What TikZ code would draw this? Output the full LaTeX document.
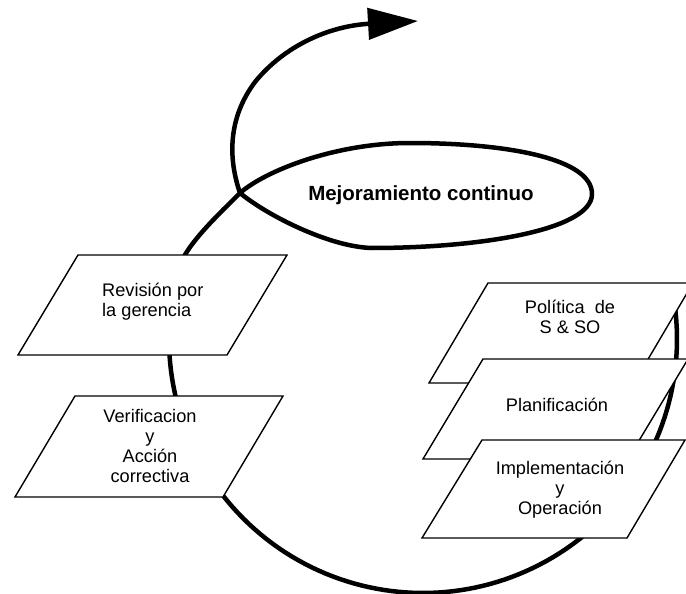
\documentclass[tikz,border=0pt]{standalone}
\usepackage{fontspec}
\setmainfont{Liberation Sans}
\usetikzlibrary{arrows.meta}
\begin{document}
\begin{tikzpicture}[x=1pt,y=-1pt,
  flow/.style={line width=4.5pt, line join=round, line cap=round},
  pbox/.style={draw=black, fill=white, line width=1.4pt, line join=miter},
  lbl/.style={font=\fontsize{18.2}{19.8}\selectfont, inner sep=0pt, anchor=base, align=center},
]
\useasboundingbox (0,0) rectangle (686,594);
\clip (0,0) rectangle (686,594);
\fill[white] (0,0) rectangle (686,594);

\coordinate (cross) at (240,193);
\coordinate (tip) at (418,21);

% main cycle, spiral and arrow
\draw[flow, -{Triangle[length=50pt,width=31pt]}]
  plot[domain=-8:197, samples=120] ({423+254*cos(\x)}, {339+254*sin(\x)})
  .. controls (189,241) and (224.6,208.8) .. (cross)
  .. controls (228,158) and (228,118) .. (255,82)
  .. controls (285,45) and (330,26) .. (tip);

% improvement loop
\draw[flow] (cross) .. controls (265,171) and (335,143) .. (410,143)
  .. controls (505,143) and (592,158) .. (592,194)
  .. controls (592,230) and (480,248) .. (372,248)
  .. controls (330,247) and (268,216) .. (cross);

% boxes
\path[pbox] (78,255) -- (287,255) -- (227,355) -- (18,355) -- cycle;
\path[pbox] (75,396) -- (283,396) -- (223,497) -- (15,497) -- cycle;
\path[pbox] (488,283) -- (693,283) -- (634,383) -- (429,383) -- cycle;
\path[pbox] (483,359) -- (688,359) -- (628,459) -- (423,459) -- cycle;
\path[pbox] (482,440) -- (685,440) -- (627,538) -- (422,538) -- cycle;

% labels (base anchor = baseline of the last line)
\node[lbl, anchor=base west, align=left] (rev) at (102,316) {Revisión por\\la gerencia};
\node[lbl] (ver) at (150,482) {Verificacion\\y\\Acción\\correctiva};
\node[lbl] (pol) at (570,333) {Política\ \ de\\S \& SO};
\node[lbl] (pla) at (557,411) {Planificación};
\node[lbl] (imp) at (560,514) {Implementación\\y\\Operación};
\node[lbl, font=\bfseries\fontsize{20.5}{24}\selectfont] (mej) at (421,200) {Mejoramiento continuo};
\end{tikzpicture}
\end{document}
